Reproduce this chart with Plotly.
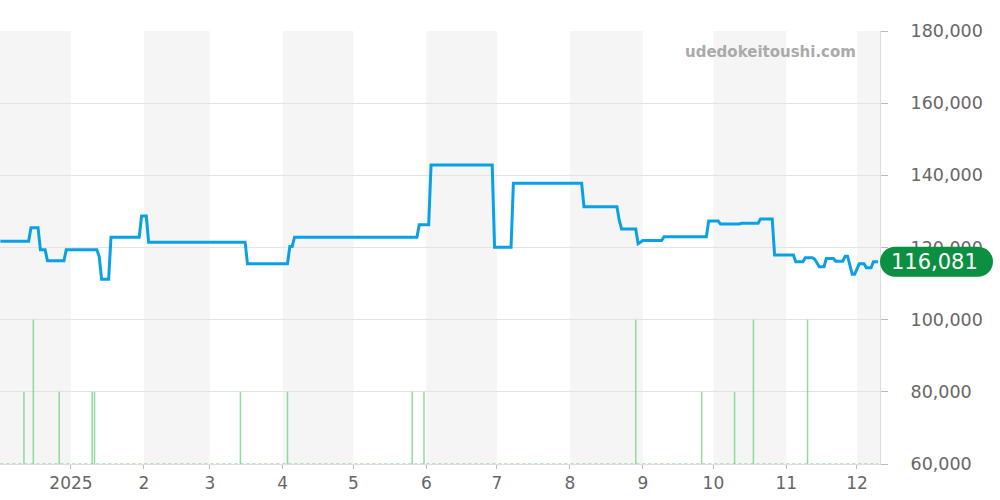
import plotly.graph_objects as go

# ---- price series (change points) ----
price_dates = [
    "2024-12-02", "2024-12-14", "2024-12-15", "2024-12-18", "2024-12-19", "2024-12-21",
    "2024-12-22", "2024-12-29", "2024-12-30", "2025-01-12", "2025-01-13", "2025-01-14",
    "2025-01-17", "2025-01-18", "2025-01-30", "2025-01-31", "2025-02-02", "2025-02-03",
    "2025-03-16", "2025-03-17", "2025-04-03", "2025-04-04", "2025-04-05", "2025-04-06",
    "2025-05-28", "2025-05-29", "2025-06-02", "2025-06-03", "2025-06-29", "2025-06-30",
    "2025-07-07", "2025-07-08", "2025-08-06", "2025-08-07", "2025-08-21", "2025-08-22",
    "2025-08-23", "2025-08-29", "2025-08-30", "2025-09-01", "2025-09-09", "2025-09-10",
    "2025-09-28", "2025-09-29", "2025-10-03", "2025-10-04", "2025-10-12", "2025-10-13",
    "2025-10-20", "2025-10-21", "2025-10-26", "2025-10-27", "2025-11-04", "2025-11-05",
    "2025-11-08", "2025-11-09", "2025-11-12", "2025-11-13", "2025-11-15", "2025-11-17",
    "2025-11-18", "2025-11-21", "2025-11-22", "2025-11-25", "2025-11-26", "2025-11-27",
    "2025-11-29", "2025-11-30", "2025-12-02", "2025-12-04", "2025-12-05", "2025-12-07",
    "2025-12-08", "2025-12-10",
]
price_values = [
    121700, 121700, 125500, 125500, 119400, 119400,
    116300, 116300, 119400, 119400, 117500, 111200,
    111200, 122850, 122850, 128700, 128700, 121470,
    121470, 115480, 115480, 120280, 120300, 122850,
    122850, 126290, 126290, 142860, 142860, 120080,
    120080, 137790, 137790, 131300, 131300, 127500,
    125120, 125120, 121030, 121930, 121930, 122950,
    122950, 127340, 127340, 126500, 126500, 126700,
    126700, 127900, 127900, 117920, 117920, 116050,
    116050, 117150, 117150, 116800, 114680, 114680,
    116970, 116970, 116220, 116220, 117600, 117600,
    112570, 112570, 115480, 115480, 114400, 114400,
    116081, 116081,
]

# ---- sales volume (count per day) ----
volume_dates = [
    "2024-12-12", "2024-12-16", "2024-12-27", "2025-01-10", "2025-01-11", "2025-03-14",
    "2025-04-03", "2025-05-26", "2025-05-31", "2025-08-29", "2025-09-26", "2025-10-10",
    "2025-10-18", "2025-11-10",
]
volume_counts = [1, 2, 1, 1, 1, 1, 1, 1, 1, 2, 1, 1, 2, 2]

# ---- axis / labels ----
month_ticks = ["2025-01-01", "2025-02-01", "2025-03-01", "2025-04-01", "2025-05-01",
               "2025-06-01", "2025-07-01", "2025-08-01", "2025-09-01", "2025-10-01",
               "2025-11-01", "2025-12-01"]
month_labels = ["2025", "2", "3", "4", "5", "6", "7", "8", "9", "10", "11", "12"]
shaded_months = [("2024-12-01", "2025-01-01"), ("2025-02-01", "2025-03-01"),
                 ("2025-04-01", "2025-05-01"), ("2025-06-01", "2025-07-01"),
                 ("2025-08-01", "2025-09-01"), ("2025-10-01", "2025-11-01"),
                 ("2025-12-01", "2026-01-01")]
x_range = ["2024-12-01 20:00", "2025-12-10 19:00"]
y_range = [60000, 180000]
watermark = "udedokeitoushi.com"

FONT = "DejaVu Sans"
last_value = price_values[-1]

# vertical segments for the volume sticks, built from the data
vx, vy = [], []
for d, c in zip(volume_dates, volume_counts):
    vx += [d, d, None]
    vy += [0, c, None]

fig = go.Figure()

fig.add_trace(go.Scatter(
    x=[price_dates[0], price_dates[-1]], y=[0, 0], yaxis="y2", mode="lines",
    line=dict(color="rgba(120,205,130,0.7)", width=1.5, dash="dot"),
    hoverinfo="skip", showlegend=False,
))
fig.add_trace(go.Scatter(
    x=vx, y=vy, yaxis="y2", mode="lines",
    line=dict(color="rgba(110,205,125,0.75)", width=1.5),
    hoverinfo="skip", showlegend=False,
))
fig.add_trace(go.Scatter(
    x=price_dates, y=price_values, mode="lines",
    line=dict(color="#0aa0e6", width=3),
    showlegend=False,
))

shapes = []
for a, b in shaded_months:
    shapes.append(dict(type="rect", xref="x", yref="paper", x0=a, x1=b, y0=0, y1=1,
                       fillcolor="#f5f5f5", line=dict(width=0), layer="below"))

# rounded badge for last value
r = 15
w = 113
k = 8.28
path = (f"M {r},{-r} L {w - r},{-r} "
        f"C {w - r + k},{-r} {w},{-k} {w},0 "
        f"C {w},{k} {w - r + k},{r} {w - r},{r} "
        f"L {r},{r} "
        f"C {r - k},{r} 0,{k} 0,0 "
        f"C 0,{-k} {r - k},{-r} {r},{-r} Z")
shapes.append(dict(type="path", xref="paper", yref="y", xsizemode="pixel", ysizemode="pixel",
                   xanchor=1, yanchor=last_value, path=path,
                   fillcolor="#0a9040", line=dict(width=0), layer="above"))

fig.update_layout(
    width=1000, height=500,
    margin=dict(l=0, r=120, t=31, b=36),
    plot_bgcolor="white", paper_bgcolor="white",
    font=dict(family=FONT, size=17, color="#666"),
    shapes=shapes,
    xaxis=dict(
        type="date", range=x_range, tickvals=month_ticks, ticktext=month_labels,
        showgrid=False, ticks="outside", ticklen=4, tickcolor="#bbb",
        showline=True, linecolor="#ddd", linewidth=1, zeroline=False,
        tickfont=dict(size=17, color="#666"),
    ),
    yaxis=dict(
        side="right", range=y_range, dtick=20000, tickformat=",",
        showgrid=True, gridcolor="#e3e3e3", gridwidth=1,
        ticks="outside", ticklen=7, tickcolor="#bbb", ticklabelstandoff=19,
        showline=True, linecolor="#ddd", linewidth=1, zeroline=False,
        tickfont=dict(size=17.5, color="#666"),
    ),
    yaxis2=dict(overlaying="y", range=[0, 6], visible=False, fixedrange=True),
    annotations=[
        dict(text=f"<b>{watermark}</b>", xref="paper", yref="paper", x=858 / 880, y=0.951,
             xanchor="right", yanchor="middle", showarrow=False,
             font=dict(family=FONT, size=15, color="#aaa")),
        dict(text=f"{last_value:,}", xref="paper", yref="y", x=1, y=last_value,
             xanchor="center", yanchor="middle", xshift=54, showarrow=False,
             font=dict(family=FONT, size=21, color="white")),
    ],
)

fig.write_html("out.html", config={"displayModeBar": False},
               post_script="document.body.style.margin='0';")
